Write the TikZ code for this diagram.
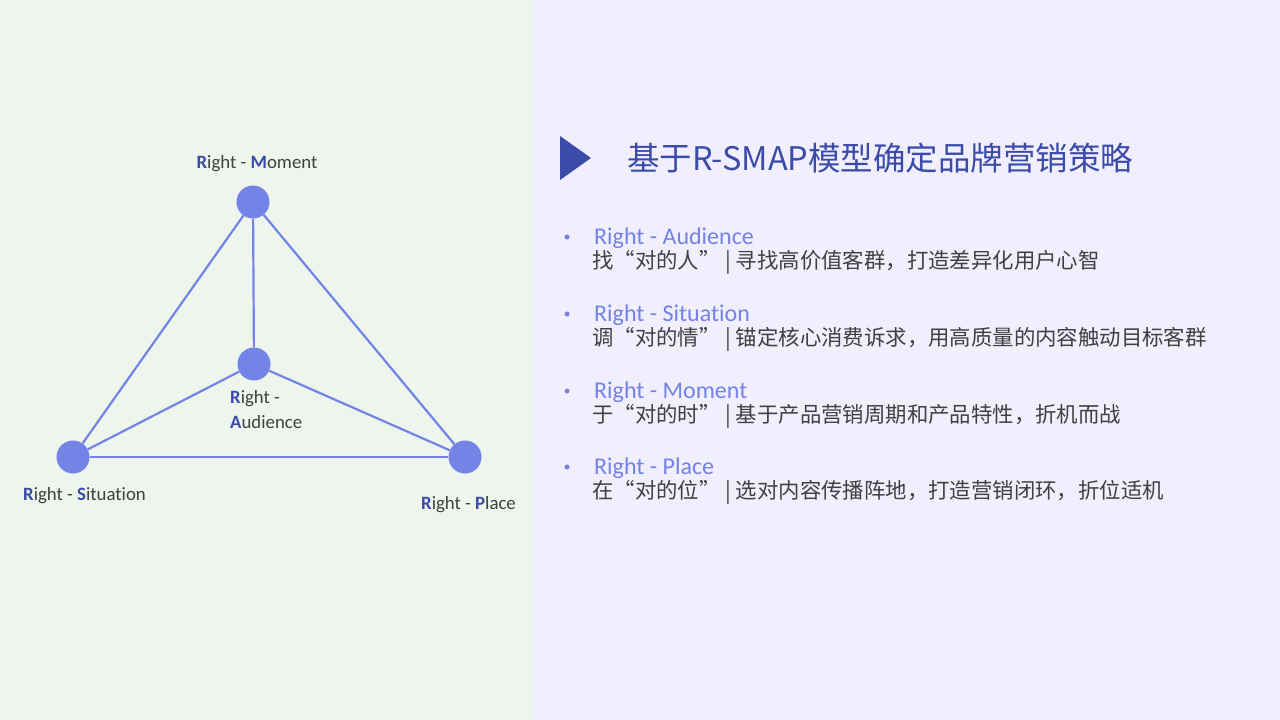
\documentclass[tikz,border=0pt]{standalone}
\usepackage{fontspec}
\setmainfont{Carlito}[Ligatures=NoCommon]
\newfontfamily\cjk{Noto Sans CJK SC}
\definecolor{leftbg}{HTML}{EEF5EC}
\definecolor{rightbg}{HTML}{F1EEFE}
\definecolor{node}{HTML}{7383E6}
\definecolor{dark}{HTML}{3A4BA8}
\definecolor{txt}{HTML}{404040}
\begin{document}
\begin{tikzpicture}[x=1pt,y=-1pt,
  dot/.style={circle,fill=node,minimum size=33pt,inner sep=0pt},
  link/.style={draw=node,line width=2.2pt},
  lab/.style={text=txt,font=\fontsize{18.8}{22}\selectfont,inner sep=0pt},
  head/.style={text=node,font=\fontsize{24}{28}\selectfont,inner sep=0pt,anchor=west},
  body/.style={text=txt,font=\cjk\fontsize{21.4}{26}\selectfont,inner sep=0pt,anchor=west},
  bul/.style={circle,fill=node,minimum size=5pt,inner sep=0pt}]
\useasboundingbox (0,0) rectangle (1280,720);
\fill[leftbg] (0,0) rectangle (532,720);
\fill[rightbg] (532,0) rectangle (1280,720);
% diagram
\node[dot] (M) at (253,202) {};
\node[dot] (A) at (254,364) {};
\node[dot] (S) at (73,457) {};
\node[dot] (P) at (465,457) {};
\draw[link] (M) -- (S);
\draw[link] (M) -- (P);
\draw[link] (M) -- (A);
\draw[link] (A) -- (S);
\draw[link] (A) -- (P);
\draw[link] (S) -- (P);
\node[lab] (lM) at (257,164) {\textbf{\color{dark}R}ight - \textbf{\color{dark}M}oment};
\node[lab,anchor=west] (lA1) at (230,399) {\textbf{\color{dark}R}ight -};
\node[lab,anchor=west] (lA2) at (230,422) {\textbf{\color{dark}A}udience};
\node[lab,anchor=west] (lS) at (23,496) {\textbf{\color{dark}R}ight - \textbf{\color{dark}S}ituation};
\node[lab,anchor=west] (lP) at (421,505) {\textbf{\color{dark}R}ight - \textbf{\color{dark}P}lace};
% title
\fill[dark] (560,136) -- (560,180) -- (591,158) -- cycle;
\node[anchor=west,inner sep=0pt,text=dark,font=\cjk\fontsize{32.5}{36}\selectfont] (title) at (627,158) {基于R-SMAP模型确定品牌营销策略};
% list
\node[bul] (b1) at (567,237) {};
\node[head] (h1) at (594,238) {Right - Audience};
\node[body] (t1) at (592,262) {找“对的人” | 寻找高价值客群，打造差异化用户心智};
\node[bul] (b2) at (567,314) {};
\node[head] (h2) at (594,315) {Right - Situation};
\node[body] (t2) at (592,339) {调“对的情” | 锚定核心消费诉求，用高质量的内容触动目标客群};
\node[bul] (b3) at (567,391) {};
\node[head] (h3) at (594,392) {Right - Moment};
\node[body] (t3) at (592,416) {于“对的时” | 基于产品营销周期和产品特性，折机而战};
\node[bul] (b4) at (567,467) {};
\node[head] (h4) at (594,468) {Right - Place};
\node[body] (t4) at (592,492) {在“对的位” | 选对内容传播阵地，打造营销闭环，折位适机};
\end{tikzpicture}
\end{document}
